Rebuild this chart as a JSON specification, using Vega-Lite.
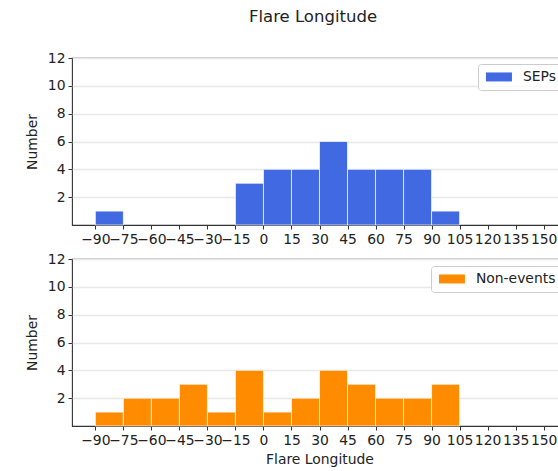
{
  "$schema": "https://vega.github.io/schema/vega-lite/v6.json",
  "autosize": "none",
  "padding": {"left": 72, "top": 58, "right": 486, "bottom": 413},
  "background": "white",
  "config": {
    "font": "DejaVu Sans",
    "view": {"stroke": "#333333", "strokeWidth": 1.1},
    "axis": {
      "labelFont": "DejaVu Sans", "titleFont": "DejaVu Sans",
      "labelFontSize": 13.9, "titleFontSize": 13.9,
      "labelColor": "#222222", "titleColor": "#222222",
      "titleFontWeight": "normal",
      "tickColor": "#333333", "tickSize": 4, "tickWidth": 1,
      "domain": false,
      "gridColor": "#e8e8e8", "gridWidth": 1.5,
      "labelPadding": 3
    },
    "legend": {
      "labelFont": "DejaVu Sans", "labelFontSize": 13.9, "labelColor": "#222222",
      "strokeColor": "#cccccc", "cornerRadius": 3, "fillColor": "rgba(255,255,255,0.8)",
      "padding": 6,
      "symbolType": "M-2.6,-0.9L2.6,-0.9L2.6,0.9L-2.6,0.9Z",
      "symbolSize": 100, "symbolStrokeWidth": 0, "symbolOffset": 8,
      "labelOffset": 17
    }
  },
  "datasets": {
    "sep": [
      {"lo": -90, "hi": -75, "n": 1},
      {"lo": -15, "hi": 0, "n": 3},
      {"lo": 0, "hi": 15, "n": 4},
      {"lo": 15, "hi": 30, "n": 4},
      {"lo": 30, "hi": 45, "n": 6},
      {"lo": 45, "hi": 60, "n": 4},
      {"lo": 60, "hi": 75, "n": 4},
      {"lo": 75, "hi": 90, "n": 4},
      {"lo": 90, "hi": 105, "n": 1}
    ],
    "non": [
      {"lo": -90, "hi": -75, "n": 1},
      {"lo": -75, "hi": -60, "n": 2},
      {"lo": -60, "hi": -45, "n": 2},
      {"lo": -45, "hi": -30, "n": 3},
      {"lo": -30, "hi": -15, "n": 1},
      {"lo": -15, "hi": 0, "n": 4},
      {"lo": 0, "hi": 15, "n": 1},
      {"lo": 15, "hi": 30, "n": 2},
      {"lo": 30, "hi": 45, "n": 4},
      {"lo": 45, "hi": 60, "n": 3},
      {"lo": 60, "hi": 75, "n": 2},
      {"lo": 75, "hi": 90, "n": 2},
      {"lo": 90, "hi": 105, "n": 3}
    ]
  },
  "bounds": "flush",
  "spacing": 34,
  "resolve": {"scale": {"color": "independent"}, "legend": {"color": "independent"}},
  "vconcat": [
    {
      "width": 495, "height": 167,
      "title": {"text": "Flare Longitude", "dx": -6.5, "offset": 26, "fontSize": 16.5, "fontWeight": "normal", "font": "DejaVu Sans", "color": "#222222"},
      "data": {"name": "sep"},
      "mark": {"type": "bar", "stroke": "white", "strokeWidth": 1, "strokeOpacity": 0.7},
      "encoding": {
        "x": {"field": "lo", "type": "quantitative",
              "scale": {"domain": [-102.5, 162.5], "nice": false, "zero": false},
              "axis": {"title": null, "grid": false, "values": [-90,-75,-60,-45,-30,-15,0,15,30,45,60,75,90,105,120,135,150], "labelOverlap": false, "labelFlush": false}},
        "x2": {"field": "hi"},
        "y": {"field": "n", "type": "quantitative",
              "scale": {"domain": [0, 12], "nice": false},
              "axis": {"title": "Number", "values": [2,4,6,8,10,12], "titlePadding": 8}},
        "y2": {"datum": 0},
        "color": {"datum": "SEPs", "type": "nominal", "scale": {"range": ["#4169E1"]},
                  "legend": {"title": null, "orient": "none", "legendX": 406, "legendY": 6}}
      }
    },
    {
      "width": 495, "height": 167,
      "data": {"name": "non"},
      "mark": {"type": "bar", "stroke": "white", "strokeWidth": 1, "strokeOpacity": 0.7},
      "encoding": {
        "x": {"field": "lo", "type": "quantitative",
              "scale": {"domain": [-102.5, 162.5], "nice": false, "zero": false},
              "axis": {"title": "Flare Longitude", "grid": false, "titlePadding": 6, "values": [-90,-75,-60,-45,-30,-15,0,15,30,45,60,75,90,105,120,135,150], "labelOverlap": false, "labelFlush": false}},
        "x2": {"field": "hi"},
        "y": {"field": "n", "type": "quantitative",
              "scale": {"domain": [0, 12], "nice": false},
              "axis": {"title": "Number", "values": [2,4,6,8,10,12], "titlePadding": 8}},
        "y2": {"datum": 0},
        "color": {"datum": "Non-events", "type": "nominal", "scale": {"range": ["#FF8C00"]},
                  "legend": {"title": null, "orient": "none", "legendX": 359, "legendY": 7}}
      }
    }
  ]
}
